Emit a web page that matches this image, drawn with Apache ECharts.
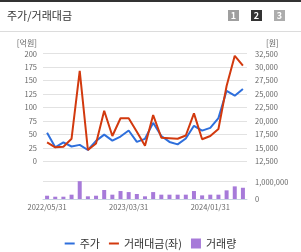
<!DOCTYPE html>
<html><head><meta charset="utf-8">
<script src="https://cdn.jsdelivr.net/npm/echarts@6/dist/echarts.min.js"></script>
<style>html,body{margin:0;padding:0;background:#fff}#c{width:301px;height:252px}</style>
</head><body><div id="c"></div>
<script>
const categories = ['2022/05/31','2022/06/30','2022/07/31','2022/08/31','2022/09/30','2022/10/31','2022/11/30','2022/12/31','2023/01/31','2023/02/28','2023/03/31','2023/04/30','2023/05/31','2023/06/30','2023/07/31','2023/08/31','2023/09/30','2023/10/31','2023/11/30','2023/12/31','2024/01/31','2024/02/29','2024/03/31','2024/04/30','2024/05/31'];
const price = [17800,15100,16000,15250,15550,14600,16300,17450,16350,17100,18220,16100,16680,19650,17200,16100,15650,16740,19100,18200,18720,20520,25600,24690,25940];
const tradeValue = [35,26,27,42,168,21,33,94,47,80,80,55,29,86,44,43,42,48,89,41,47,60,140,196,178];
const volume = [190000,133000,133000,250000,1030000,155000,190000,520000,250000,460000,400000,290000,155000,400000,250000,250000,250000,250000,460000,210000,250000,250000,500000,730000,650000];
const leftTicks = {min:0,max:200,interval:25};
const rightTicks = {min:12500,max:32500,interval:2500};
const volTicks = {min:0,max:1000000,interval:1000000};

const FONT = '"Noto Sans CJK KR","Noto Sans",sans-serif';
const AX = 7.5;
const fmt = v => v.toLocaleString('en-US');
const LINE_ICON = 'path://M0,0M10,10M0,4h10v2h-10z';
const chart = echarts.init(document.getElementById('c'), null, {renderer:'canvas'});
chart.setOption({
  animation:false,
  textStyle:{fontFamily:FONT},
  title:{text:'주가/거래대금', left:7, top:10, padding:0, textStyle:{fontSize:11, fontWeight:'normal', color:'#333', fontFamily:FONT}},
  graphic:[
    {type:'rect', shape:{x:0,y:0,width:301,height:2}, style:{fill:'#333'}},
    {type:'rect', shape:{x:0,y:31,width:301,height:1}, style:{fill:'#dcdcdc'}},
    {type:'rect', shape:{x:228,y:10,width:11,height:11}, style:{fill:'#9f9f9f'}},
    {type:'text', x:233.5, y:15.5, style:{text:'1', fill:'#fff', font:'bold 9px '+FONT, align:'center', verticalAlign:'middle'}},
    {type:'rect', shape:{x:251,y:10,width:11,height:11}, style:{fill:'#333'}},
    {type:'text', x:256.5, y:15.5, style:{text:'2', fill:'#fff', font:'bold 9px '+FONT, align:'center', verticalAlign:'middle'}},
    {type:'rect', shape:{x:274,y:10,width:11,height:11}, style:{fill:'#acacac'}},
    {type:'text', x:279.5, y:15.5, style:{text:'3', fill:'#fff', font:'bold 9px '+FONT, align:'center', verticalAlign:'middle'}}
  ],
  legend:{
    left:'center', top:233, itemWidth:10, itemHeight:10, itemGap:9,
    textStyle:{fontSize:11, color:'#333', fontFamily:FONT},
    data:[
      {name:'주가', icon:LINE_ICON, itemStyle:{color:'#2e6fdc', borderWidth:0}},
      {name:'거래대금(좌)', icon:LINE_ICON, itemStyle:{color:'#d2390e', borderWidth:0}},
      {name:'거래량', icon:'rect'}
    ]
  },
  grid:[
    {left:43, right:54, top:53.7, height:107.6},
    {left:43, right:54, top:181.7, height:17.3}
  ],
  xAxis:[
    {type:'category', gridIndex:0, data:categories, boundaryGap:true, axisLine:{show:false}, axisTick:{show:false}, axisLabel:{show:false}, splitLine:{show:false}},
    {type:'category', gridIndex:1, data:categories, boundaryGap:true,
      axisLine:{lineStyle:{color:'#c9d3e2'}},
      axisTick:{lineStyle:{color:'#c9d3e2'}, length:4, interval:(i)=> i===0||i===1||i===11||i===21},
      axisLabel:{interval:(i)=> i%10===0, fontSize:AX, color:'#666', margin:4, fontFamily:FONT, hideOverlap:false}}
  ],
  yAxis:[
    {type:'value', gridIndex:0, position:'left', min:leftTicks.min, max:leftTicks.max, interval:leftTicks.interval,
      name:'[억원]', nameLocation:'end', nameGap:7, nameTextStyle:{fontSize:8, color:'#666', align:'right', padding:[0,6,0,0], fontFamily:FONT},
      axisLine:{show:false}, axisTick:{show:false},
      axisLabel:{fontSize:AX, color:'#666', margin:6, fontFamily:FONT},
      splitLine:{lineStyle:{color:'#e2e2e2', width:1}}},
    {type:'value', gridIndex:0, position:'right', min:rightTicks.min, max:rightTicks.max, interval:rightTicks.interval,
      name:'[원]', nameLocation:'end', nameGap:7, nameTextStyle:{fontSize:8, color:'#666', align:'left', padding:[0,0,0,19], fontFamily:FONT},
      axisLine:{show:false}, axisTick:{show:false},
      axisLabel:{fontSize:AX, color:'#666', margin:8, formatter:fmt, fontFamily:FONT},
      splitLine:{show:false}},
    {type:'value', gridIndex:1, position:'right', min:volTicks.min, max:volTicks.max, interval:volTicks.interval,
      axisLine:{show:false}, axisTick:{show:false},
      axisLabel:{fontSize:AX, color:'#666', margin:8, formatter:fmt, fontFamily:FONT},
      splitLine:{lineStyle:{color:'#e2e2e2', width:1}}}
  ],
  series:[
    {name:'주가', type:'line', xAxisIndex:0, yAxisIndex:1, data:price, symbol:'none', lineStyle:{width:2, color:'#2e6fdc'}, itemStyle:{color:'#2e6fdc'}},
    {name:'거래대금(좌)', type:'line', xAxisIndex:0, yAxisIndex:0, data:tradeValue, symbol:'none', lineStyle:{width:2, color:'#d2390e'}, itemStyle:{color:'#d2390e'}},
    {name:'거래량', type:'bar', xAxisIndex:1, yAxisIndex:2, data:volume, barWidth:4, clip:false, itemStyle:{color:'#a77ad9'}}
  ]
});
</script></body></html>
